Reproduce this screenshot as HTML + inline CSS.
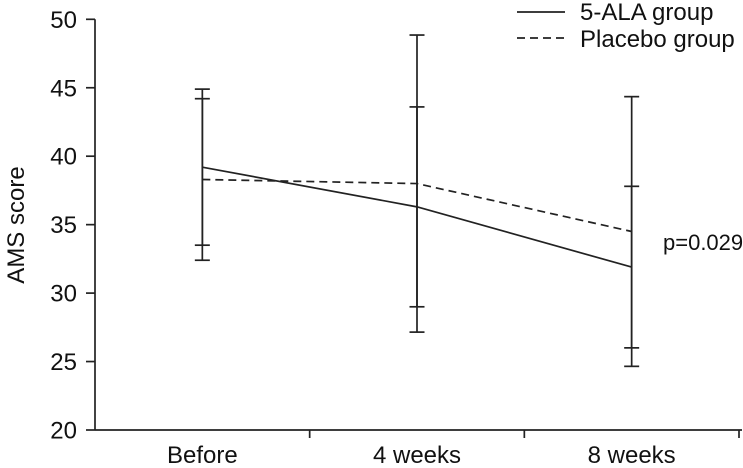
<!DOCTYPE html>
<html><head><meta charset="utf-8"><style>
body{margin:0;background:#fff}
svg{display:block;font-family:"Liberation Sans",Arial,sans-serif}
</style></head><body>
<svg id="chart" width="743" height="468" viewBox="0 0 743 468">
<g id="axes"></g>
<g id="marks"></g>
<text x="24" y="225" transform="rotate(-90 24 225)" text-anchor="middle" font-size="24" fill="#111">AMS score</text>
<text x="663" y="250" font-size="22" fill="#111">p=0.029</text>
<g>
<line x1="517" y1="12" x2="565" y2="12" stroke="#222" stroke-width="1.7"/>
<text x="580" y="20" font-size="24" fill="#111">5-ALA group</text>
<line x1="517" y1="38" x2="565" y2="38" stroke="#222" stroke-width="1.7" stroke-dasharray="8,5"/>
<text x="580" y="47" font-size="24" fill="#111">Placebo group</text>
</g>
</svg>
<script>
const categories = ["Before", "4 weeks", "8 weeks"];
const alaMeans = [39.2, 36.3, 31.9];
const alaSD = [5.7, 7.3, 5.9];
const placeboMeans = [38.3, 38.0, 34.5];
const placeboSD = [5.9, 10.85, 9.85];
const yTicks = [20, 25, 30, 35, 40, 45, 50];

const NS = "http://www.w3.org/2000/svg";
const x0 = 95, x1 = 739, yTop = 19.3, yBot = 430, yMin = 20, yMax = 50;
const band = (x1 - x0) / categories.length;
const xPos = i => x0 + band * (i + 0.5);
const yPos = v => yBot - (v - yMin) / (yMax - yMin) * (yBot - yTop);
function mk(tag, attrs, parent) {
  const e = document.createElementNS(NS, tag);
  for (const k in attrs) e.setAttribute(k, attrs[k]);
  parent.appendChild(e);
  return e;
}
const axes = document.getElementById("axes");
const marks = document.getElementById("marks");
let el;
el = mk("line", {x1: x0, y1: yPos(yMax), x2: x0, y2: yBot, stroke: "#222", "stroke-width": 1.7}, axes);


el = mk("line", {x1: x0, y1: yBot, x2: x1 + 3, y2: yBot, stroke: "#222", "stroke-width": 1.7}, axes);


yTicks.forEach(t => {
  const y = yPos(t);
  el = mk("line", {x1: 86, y1: y, x2: x0, y2: y, stroke: "#222", "stroke-width": 1.7}, axes);
  
  
  el = mk("text", {x: 77, y: y + 8.5, "text-anchor": "end", "font-size": 24, fill: "#111"}, axes);
  el.textContent = t;
  
  
});
for (let i = 1; i <= categories.length; i++) {
  const x = x0 + band * i;
  el = mk("line", {x1: x, y1: yBot, x2: x, y2: yBot + 8, stroke: "#222", "stroke-width": 1.7}, axes);
  
  
}
categories.forEach((c, i) => {
  el = mk("text", {x: xPos(i), y: 463, "text-anchor": "middle", "font-size": 24, fill: "#111"}, axes);
  el.textContent = c;
  
  
});
function series(means, sds, dash, name) {
  const pts = means.map((m, i) => xPos(i) + "," + yPos(m)).join(" ");
  const attrs = {points: pts, fill: "none", stroke: "#222", "stroke-width": 1.7};
  if (dash) attrs["stroke-dasharray"] = "8,5";
  el = mk("polyline", attrs, marks);
  
  
  means.forEach((m, i) => {
    const x = xPos(i), hi = yPos(m + sds[i]), lo = yPos(m - sds[i]);
    el = mk("line", {x1: x, y1: hi, x2: x, y2: lo, stroke: "#222", "stroke-width": 1.7}, marks);
    
    
    [hi, lo].forEach(y => {
      el = mk("line", {x1: x - 7.5, y1: y, x2: x + 7.5, y2: y, stroke: "#222", "stroke-width": 1.7}, marks);
      
      
    });
  });
}
series(alaMeans, alaSD, false, "ala");
series(placeboMeans, placeboSD, true, "placebo");
</script>
</body></html>
